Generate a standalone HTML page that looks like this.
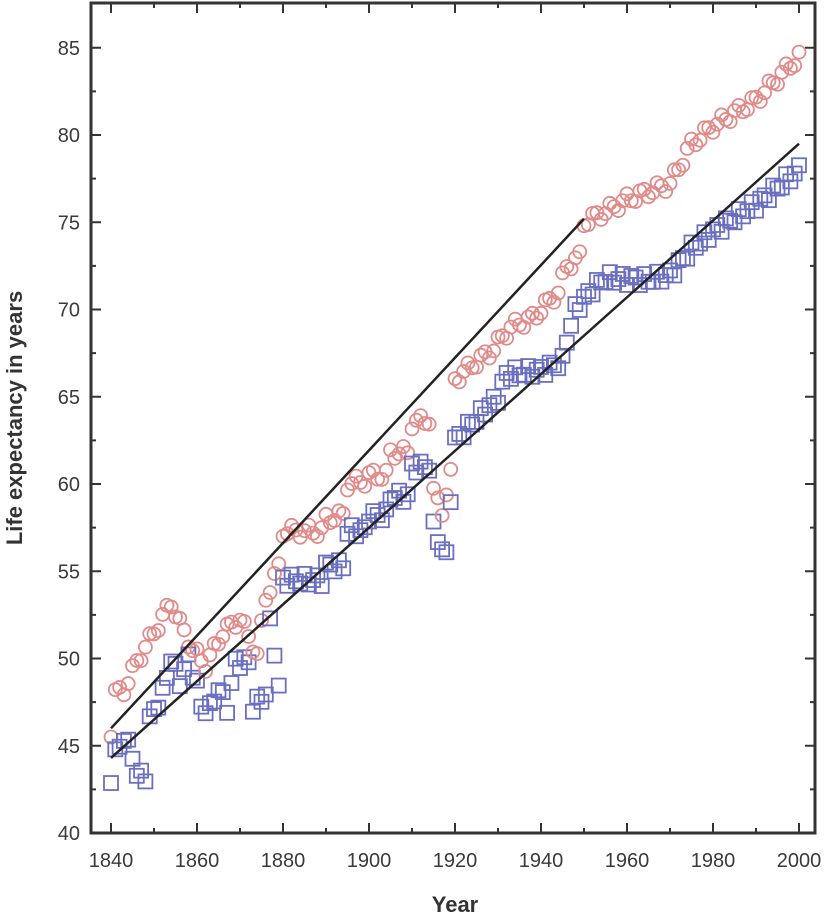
<!DOCTYPE html>
<html><head><style>body{margin:0;background:#fff}svg text{font-family:"Liberation Sans",sans-serif}</style></head>
<body>
<svg id="s" width="825" height="915" xmlns="http://www.w3.org/2000/svg">
<rect x="91" y="3" width="724" height="830" fill="none" stroke="#333" stroke-width="3"/>
<g id="ticks" stroke="#333" stroke-width="2"></g>
<g id="lbl" font-size="20" fill="#3a3a3a"></g>
<text x="455" y="912" font-size="22" font-weight="bold" fill="#333" text-anchor="middle">Year</text>
<text transform="translate(22,418) rotate(-90)" font-size="22" font-weight="bold" fill="#333" text-anchor="middle">Life expectancy in years</text>
<g id="pts"></g>
<line id="l1" stroke="#222" stroke-width="2.5"/>
<line id="l2" stroke="#222" stroke-width="2.5"/>
</svg>
<script>
const X=y=>111+(y-1840)*4.3, Y=v=>833-(v-40)*17.45;
const NS="http://www.w3.org/2000/svg";
function el(p,t,a,txt){const e=document.createElementNS(NS,t);for(const k in a)e.setAttribute(k,a[k]);if(txt)e.textContent=txt;document.getElementById(p).appendChild(e);return e}
for(let y=1840;y<=2000;y+=10){const x=X(y),L=y%20==0?10:5;el("ticks","line",{x1:x,y1:833,x2:x,y2:833-L});el("ticks","line",{x1:x,y1:3,x2:x,y2:3+L});
 if(y%20==0)el("lbl","text",{x:x,y:867,"text-anchor":"middle"},y)}
for(let v=40;v<=87;v+=2.5){const yy=Y(v),L=v%5==0?10:5;if(yy<4)continue;el("ticks","line",{x1:91,y1:yy,x2:91+L,y2:yy});el("ticks","line",{x1:815,y1:yy,x2:815-L,y2:yy});
 if(v%5==0)el("lbl","text",{x:80,y:yy+7,"text-anchor":"end"},v)}
function interp(k,y){for(let i=0;i<k.length-1;i++){if(y>=k[i][0]&&y<=k[i+1][0]){const t=(y-k[i][0])/(k[i+1][0]-k[i][0]||1);return k[i][1]+t*(k[i+1][1]-k[i][1])}}return k[k.length-1][1]}
const red=[[1840,45.8],[1841,48],[1843,48.2],[1846,49.8],[1850,51.5],[1854,53.2],[1856,52],[1859,50.5],[1862,49.6],[1866,51.5],[1870,52.3],[1874,50.2],[1876,53.5],[1879,55.2],[1880,57.3],[1889,57.3],[1890,58],[1894,58.2],[1895,60],[1899,60.2],[1900,60.5],[1904,60.5],[1905,61.8],[1909,61.8],[1910,63.5],[1914,63.7],[1915,59.5],[1917,58.5],[1919,60.5],[1920,66],[1925,67],[1928,67.5],[1933,69],[1938,69.5],[1944,71],[1946,72.5],[1949,73],[1950,75],[1955,75.6],[1960,76.3],[1970,77.2],[1975,79.5],[1980,80.5],[1990,82],[2000,84.5]];
const blue=[[1840,43.2],[1841,44.5],[1843,45.5],[1845,44.5],[1846,43.3],[1848,43.3],[1849,46.5],[1852,48],[1854,50],[1856,48.7],[1858,50],[1860,48.5],[1861,47.2],[1863,47.1],[1865,48.3],[1867,47.2],[1869,49.8],[1872,49.8],[1873,47.2],[1876,48],[1877,52],[1878,50.5],[1879,48.3],[1880,54.5],[1889,54.5],[1890,55.3],[1894,55.3],[1895,57.3],[1899,57.3],[1900,58.2],[1904,58.2],[1905,59.3],[1909,59.3],[1910,61],[1914,61],[1915,57.5],[1917,56.3],[1918,55.8],[1919,59.3],[1920,62.5],[1924,63.5],[1930,65],[1932,66.3],[1940,66.5],[1945,67],[1946,68.3],[1948,70],[1952,71.2],[1955,71.8],[1965,71.7],[1970,72],[1975,73.5],[1980,74.5],[1990,76],[2000,78]];
for(let y=1840;y<=2000;y++){
 const n=Math.sin(y*1.7)*0.35;
 el("pts","circle",{cx:X(y),cy:Y(interp(red,y)+n),r:6.5,fill:"none",stroke:"#e08a8a","stroke-width":1.8});
 const b=interp(blue,y)+Math.cos(y*2.3)*0.35;
 el("pts","rect",{x:X(y)-7,y:Y(b)-7,width:14,height:14,fill:"none",stroke:"#6a6fc0","stroke-width":1.8});
}
const l1=document.getElementById("l1");l1.setAttribute("x1",X(1840));l1.setAttribute("y1",Y(46));l1.setAttribute("x2",X(1950));l1.setAttribute("y2",Y(75.2));
const l2=document.getElementById("l2");l2.setAttribute("x1",X(1840));l2.setAttribute("y1",Y(44.3));l2.setAttribute("x2",X(2000));l2.setAttribute("y2",Y(79.5));
</script>
</body></html>
